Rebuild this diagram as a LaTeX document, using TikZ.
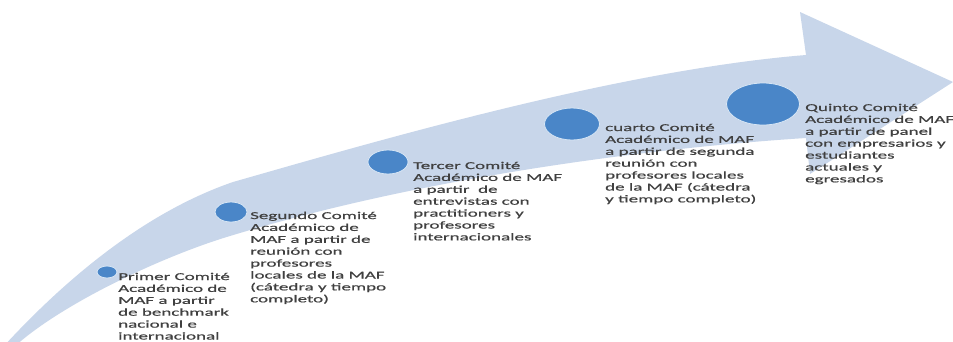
\documentclass[tikz,border=0pt]{standalone}
\usepackage{fontspec}
\setmainfont[FakeStretch=1.81,FakeBold=0.6]{Carlito}
\usetikzlibrary{shapes.geometric}
\definecolor{bandcol}{RGB}{200,214,234}
\definecolor{dotcol}{RGB}{74,134,200}
\definecolor{dotedge}{RGB}{215,230,245}
\definecolor{txtcol}{RGB}{64,64,64}
\newcommand\cmtxt[1]{\begin{tabular}[t]{@{}l@{}}#1\end{tabular}}
\tikzset{
  dot/.style={ellipse, fill=dotcol, draw=dotedge, line width=0.8pt, inner sep=0pt},
  lbl/.style={anchor=base west, inner sep=0pt, text=txtcol, font=\fontsize{10.5}{11.9}\selectfont}
}
\begin{document}
\begin{tikzpicture}[x=1pt,y=-1pt]
\useasboundingbox (0,0) rectangle (953,341);
\fill[white] (0,0) rectangle (953,341);
% band arrow
\fill[bandcol] (3,347) .. controls (60,285) and (140,214) .. (233,182)
  .. controls (380,140) and (620,70) .. (806,55)
  -- (800,12) -- (953,82) -- (810,174) -- (806,138)
  .. controls (680,146) and (440,172) .. (230,236)
  .. controls (160,257) and (60,305) .. (14,347) -- cycle;
% dots
\node[dot, minimum width=20pt, minimum height=12pt] (c1) at (107,272) {};
\node[dot, minimum width=32pt, minimum height=20pt] (c2) at (231,212) {};
\node[dot, minimum width=40pt, minimum height=24pt] (c3) at (388,162) {};
\node[dot, minimum width=55pt, minimum height=32pt] (c4) at (572,124) {};
\node[dot, minimum width=73pt, minimum height=42pt] (c5) at (763,104) {};
% labels
\node[lbl] (t1) at (118,280) {\cmtxt{Primer Comité\\Académico de\\MAF a partir\\de benchmark\\nacional e\\internacional}};
\node[lbl] (t2) at (250,219) {\cmtxt{Segundo Comité\\Académico de\\MAF a partir de\\reunión con\\profesores\\locales de la MAF\\(cátedra y tiempo\\completo)}};
\node[lbl] (t3) at (413,169) {\cmtxt{Tercer Comité\\Académico de MAF\\a partir \ de\\entrevistas con\\practitioners y\\profesores\\internacionales}};
\node[lbl] (t4) at (605,131) {\cmtxt{cuarto Comité\\Académico de MAF\\a partir de segunda\\reunión con\\profesores locales\\de la MAF (cátedra\\y tiempo completo)}};
\node[lbl] (t5) at (805,111) {\cmtxt{Quinto Comité\\Académico de MAF\\a partir de panel\\con empresarios y\\estudiantes\\actuales y\\egresados}};
\end{tikzpicture}
\end{document}
